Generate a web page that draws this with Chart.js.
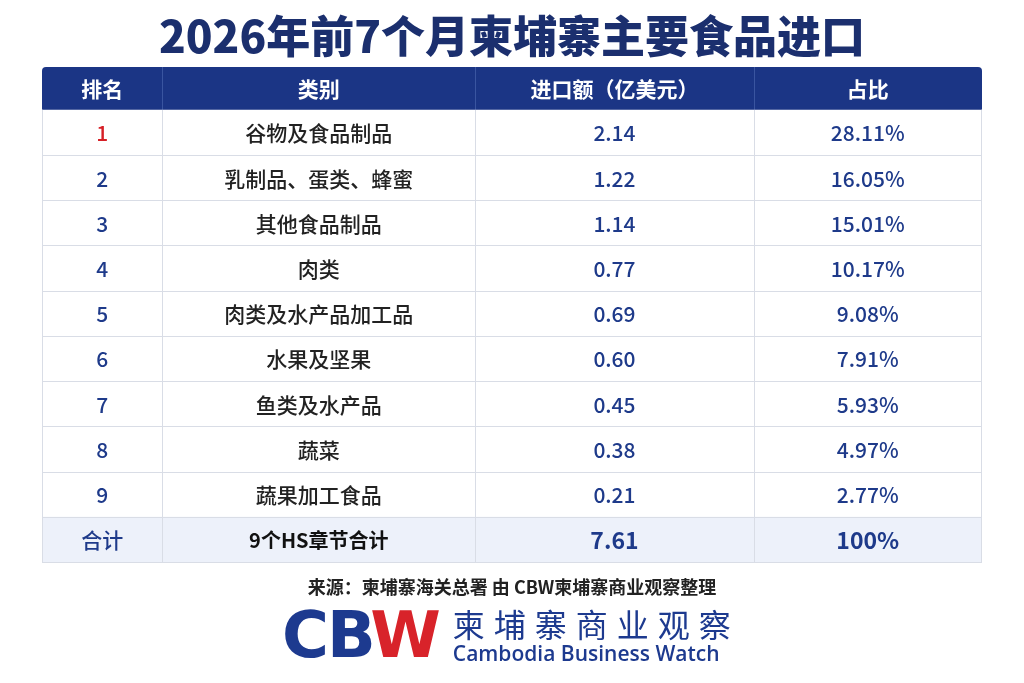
<!DOCTYPE html>
<html><head><meta charset="utf-8">
<script src="https://cdn.jsdelivr.net/npm/chart.js@4"></script>
<style>
  body{margin:0;background:#fff;font-family:"Noto Sans CJK SC",sans-serif;}
  #wrap{position:relative;width:1024px;height:683px;}
  #title{position:absolute;top:2px;left:0;width:1024px;text-align:center;font-size:44px;font-weight:900;color:#1b2f6e;}
  #c{position:absolute;top:0;left:0;}
  #src{position:absolute;top:573px;left:0;width:1024px;text-align:center;font-size:18px;font-weight:700;color:#222;}
  #logo{position:absolute;top:598px;left:282px;display:flex;align-items:center;}
  #cbw{font-family:"DejaVu Sans",sans-serif;font-weight:900;font-size:64px;color:#1d3a8f;letter-spacing:-2px;}
  #cbw span{color:#d8232a;}
  #brand{margin-left:14px;color:#1d3a8f;}
  #brand .cn{font-size:32px;letter-spacing:9px;line-height:36px;}
  #brand .en{font-family:"Open Sans",sans-serif;font-size:21px;font-weight:600;line-height:24px;}
</style></head>
<body><div id="wrap">
<canvas id="c" width="1024" height="683"></canvas>
<div id="title">2026年前7个月柬埔寨主要食品进口</div>
<div id="src">来源：柬埔寨海关总署 由 CBW柬埔寨商业观察整理</div>
<div id="logo"><div id="cbw">CB<span>W</span></div>
<div id="brand"><div class="cn">柬埔寨商业观察</div><div class="en">Cambodia Business Watch</div></div></div>
</div>
<script>
const headers    = ['排名', '类别', '进口额（亿美元）', '占比'];
const ranks      = ['1', '2', '3', '4', '5', '6', '7', '8', '9'];
const categories = ['谷物及食品制品', '乳制品、蛋类、蜂蜜', '其他食品制品', '肉类', '肉类及水产品加工品', '水果及坚果', '鱼类及水产品', '蔬菜', '蔬果加工食品'];
const amounts    = [2.14, 1.22, 1.14, 0.77, 0.69, 0.60, 0.45, 0.38, 0.21];
const shares     = ['28.11%', '16.05%', '15.01%', '10.17%', '9.08%', '7.91%', '5.93%', '4.97%', '2.77%'];
const totalRow   = ['合计', '9个HS章节合计', '7.61', '100%'];
const colEdges   = [0, 0.128, 0.461, 0.757, 1];

const NAVY = '#1b3585', BLUE = '#1e3a8a';
const rowsCount = ranks.length + 2; // header + rows + total

const tablePlugin = {
  id: 'table',
  afterDraw(chart) {
    const ctx = chart.ctx, xs = chart.scales.x, ys = chart.scales.y;
    const X = v => xs.getPixelForValue(v), Y = v => ys.getPixelForValue(v);
    const left = X(0), right = X(1);
    ctx.save();
    // header
    const hTop = Y(0), hBot = Y(0.95);
    ctx.fillStyle = NAVY;
    ctx.beginPath(); ctx.roundRect(left, hTop, right - left, hBot - hTop, [4, 4, 0, 0]); ctx.fill();
    const rowTops = [hTop, hBot];
    for (let i = 1; i < rowsCount; i++) rowTops.push(Y(0.95 + i * ((rowsCount - 0.95) / (rowsCount - 1))));
    // total row bg
    const tTop = rowTops[rowsCount - 1], tBot = rowTops[rowsCount];
    ctx.fillStyle = '#edf1fa';
    ctx.fillRect(left, tTop, right - left, tBot - tTop);
    // grid lines
    ctx.strokeStyle = '#d9dde6'; ctx.lineWidth = 1;
    for (let i = 2; i < rowTops.length; i++) {
      ctx.beginPath(); ctx.moveTo(left, Math.round(rowTops[i]) + 0.5); ctx.lineTo(right, Math.round(rowTops[i]) + 0.5); ctx.stroke();
    }
    ctx.beginPath(); ctx.moveTo(left + 0.5, hBot); ctx.lineTo(left + 0.5, tBot); ctx.moveTo(right - 0.5, hBot); ctx.lineTo(right - 0.5, tBot); ctx.stroke();
    for (let c = 1; c < colEdges.length - 1; c++) {
      const x = Math.round(X(colEdges[c])) + 0.5;
      ctx.strokeStyle = '#3a55a0';
      ctx.beginPath(); ctx.moveTo(x, hTop); ctx.lineTo(x, hBot); ctx.stroke();
      ctx.strokeStyle = '#d9dde6';
      ctx.beginPath(); ctx.moveTo(x, hBot); ctx.lineTo(x, tBot); ctx.stroke();
    }
    // text
    ctx.textAlign = 'center'; ctx.textBaseline = 'middle';
    const cx = c => (X(colEdges[c]) + X(colEdges[c + 1])) / 2;
    const cy = r => (rowTops[r] + rowTops[r + 1]) / 2 + 1;
    ctx.fillStyle = '#fff'; ctx.font = 'bold 21px "Noto Sans CJK SC"';
    headers.forEach((h, c) => ctx.fillText(h, cx(c), cy(0)));
    ranks.forEach((rk, i) => {
      const r = i + 1;
      ctx.font = '500 21px "Noto Sans CJK SC"';
      ctx.fillStyle = i === 0 ? '#d61f26' : BLUE; ctx.fillText(rk, cx(0), cy(r));
      ctx.fillStyle = '#222'; ctx.fillText(categories[i], cx(1), cy(r));
      ctx.fillStyle = BLUE; ctx.fillText(amounts[i].toFixed(2), cx(2), cy(r));
      ctx.fillText(shares[i], cx(3), cy(r));
    });
    const tr = rowsCount - 1;
    totalRow.forEach((t, c) => {
      ctx.font = (c >= 2 ? 'bold 23px' : c === 1 ? 'bold 20px' : '500 21px') + ' "Noto Sans CJK SC"';
      ctx.fillStyle = c === 1 ? '#111' : BLUE;
      ctx.fillText(t, cx(c), cy(tr));
    });
    ctx.restore();
  }
};

new Chart(document.getElementById('c'), {
  type: 'bar',
  data: { labels: categories, datasets: [{ data: [], backgroundColor: 'transparent' }] },
  options: {
    responsive: false, animation: false,
    layout: { padding: { left: 42, right: 42, top: 67, bottom: 121 } },
    plugins: { legend: { display: false }, tooltip: { enabled: false } },
    scales: {
      x: { type: 'linear', min: 0, max: 1, display: false, offset: false },
      y: { type: 'linear', min: 0, max: rowsCount, reverse: true, display: false }
    }
  },
  plugins: [tablePlugin]
});
</script>
</body></html>
